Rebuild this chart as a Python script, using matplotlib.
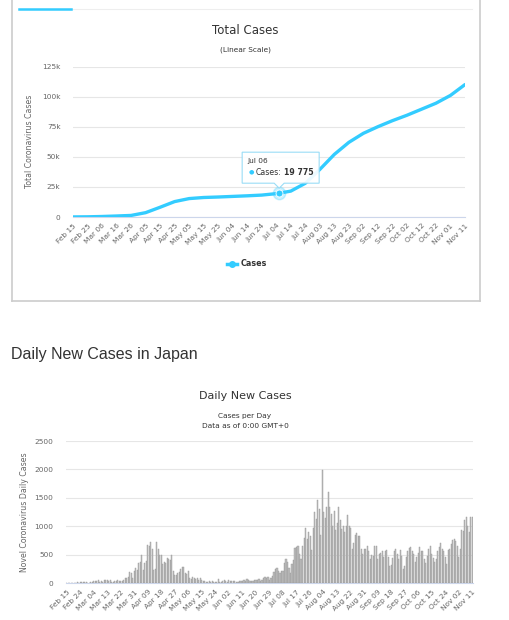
import numpy as np
import pandas as pd
import matplotlib
matplotlib.use("Agg")
import matplotlib.pyplot as plt
import matplotlib.dates as mdates
import matplotlib.transforms as mtrans
from matplotlib.lines import Line2D

# total cases, read every 10 days (Feb 15 .. Nov 11) plus the tooltip point
total_dates = pd.date_range("2020-02-15", "2020-11-11", freq="10D")
total_vals = [60, 160, 420, 830, 1300, 3600, 8100, 12800, 15300, 16200,
              16600, 17100, 17600, 18200, 19400, 21500, 28000, 39500, 52000, 62000,
              69500, 75000, 80000, 84500, 89500, 94500, 101000, 110000]
tip_date = pd.Timestamp("2020-07-06")
tip_val = 19775

# daily new cases, Feb 15 .. Nov 11
feb = [0, 12, 6, 7, 14, 9, 12, 24, 12, 15, 16, 20, 25, 21, 12]
mar = [14, 15, 19, 33, 32, 42, 55, 30, 35, 26, 52, 54, 56, 41, 64, 28, 15, 44, 39, 56,
       39, 35, 43, 65, 93, 97, 112, 200, 173, 88, 222]
apr = [266, 235, 351, 368, 500, 240, 351, 400, 680, 650, 730, 610, 240, 260, 730, 600,
       500, 490, 340, 370, 350, 440, 420, 410, 500, 210, 140, 150, 180, 200]
may = [250, 290, 290, 180, 160, 210, 90, 80, 110, 100, 70, 90, 55, 90, 55, 45, 40, 30,
       25, 35, 20, 35, 25, 30, 20, 70, 20, 15, 35, 50, 40]
jun = [30, 50, 40, 45, 35, 40, 30, 25, 40, 45, 40, 50, 45, 70, 60, 35, 40, 40, 65, 55,
       55, 70, 35, 50, 85, 110, 90, 110, 60, 90]
jul = [120, 190, 250, 270, 210, 180, 220, 210, 350, 430, 380, 270, 180, 340, 410, 620,
       640, 660, 510, 420, 650, 790, 980, 780, 900, 830, 590, 980, 1260, 1130, 1460]
aug = [1300, 850, 1998, 1260, 1150, 1340, 1610, 1340, 1220, 1000, 1270, 940, 1060, 1340,
       1120, 950, 1000, 900, 1000, 1200, 1000, 980, 600, 700, 850, 880, 830, 830, 600,
       520, 600]
sep = [600, 650, 560, 430, 500, 480, 650, 660, 420, 510, 540, 560, 470, 570, 580, 460,
       300, 330, 450, 560, 600, 520, 420, 580, 480, 260, 310, 470, 560, 620]
oct_ = [640, 560, 520, 380, 460, 540, 630, 560, 570, 430, 350, 480, 600, 650, 520, 450,
        380, 420, 560, 640, 710, 600, 560, 470, 340, 590, 600, 690, 760, 770, 740]
nov = [660, 470, 610, 930, 920, 1120, 1170, 1000, 900, 1170, 1170]
daily = feb + mar + apr + may + jun + jul + aug + sep + oct_ + nov
daily_dates = pd.date_range("2020-02-15", periods=len(daily), freq="D")

blue = "#33ccff"
grid_c = "#e6e6e6"
tick_c = "#666666"

W, H = 509, 620
fig = plt.figure(figsize=(W / 100, H / 100), dpi=100)
fig.patch.set_facecolor("white")

def fx(px):
    return px / W

def fy(py):
    return 1 - py / H

# frame of the upper card
fig.add_artist(Line2D([fx(11.5), fx(11.5)], [fy(0), fy(301)], color="#cccccc", lw=1.2))
fig.add_artist(Line2D([fx(479.5), fx(479.5)], [fy(0), fy(301)], color="#cccccc", lw=1.2))
fig.add_artist(Line2D([fx(11.5), fx(479.5)], [fy(301), fy(301)], color="#cccccc", lw=1.2))
fig.add_artist(Line2D([fx(19), fx(472)], [fy(8.5), fy(8.5)], color="#eeeeee", lw=0.8))
fig.add_artist(Line2D([fx(19), fx(71)], [fy(8.5), fy(8.5)], color=blue, lw=1.8))


def style_axes(ax):
    for s in ["top", "right", "left"]:
        ax.spines[s].set_visible(False)
    ax.spines["bottom"].set_color("#ccd6eb")
    ax.spines["bottom"].set_linewidth(0.8)
    ax.yaxis.grid(True, color=grid_c, lw=0.8)
    ax.set_axisbelow(True)
    ax.tick_params(axis="y", length=0, colors=tick_c, labelsize=5.3, pad=9)
    ax.tick_params(axis="x", length=0, colors=tick_c, labelsize=5.3, pad=4)


# ---- total cases
ax1 = fig.add_axes([fx(73), fy(217), fx(465) - fx(73), (217 - 66.5) / H])
style_axes(ax1)
s = pd.Series(total_vals, index=total_dates)
s[tip_date] = tip_val
s = s.sort_index()
ax1.plot(s.index, s.values, color=blue, lw=2.4, solid_capstyle="round", zorder=3)
ax1.set_xlim(total_dates[0], total_dates[-1])
ax1.set_ylim(0, 125000)
ax1.set_yticks([0, 25000, 50000, 75000, 100000, 125000])
ax1.set_yticklabels(["0", "25k", "50k", "75k", "100k", "125k"])
ax1.set_xticks(total_dates)
ax1.set_xticklabels([d.strftime("%b %d") for d in total_dates], rotation=45,
                    ha="right", rotation_mode="anchor")
ax1.set_ylabel("Total Coronavirus Cases", fontsize=5.6, color=tick_c, labelpad=6)
fig.text(fx(245), fy(31), "Total Cases", fontsize=8.5, color="#333333",
         ha="center", va="center")
fig.text(fx(246), fy(50), "(Linear Scale)", fontsize=5.3, color="#333333",
         ha="center", va="center")

# highlighted point and tooltip
ax1.plot([tip_date], [tip_val], "o", ms=9, color=blue, alpha=0.25, zorder=4)
ax1.plot([tip_date], [tip_val], "o", ms=5, color=blue, mec="white", mew=0.6, zorder=5)
px, py = ax1.transData.transform((mdates.date2num(tip_date), tip_val))
ident = mtrans.IdentityTransform()
box_l, box_b, box_w, box_h = px - 37, py + 10, 77, 31
fig.add_artist(plt.Polygon([[box_l, box_b], [px - 5, box_b], [px, box_b - 5],
                            [px + 5, box_b], [box_l + box_w, box_b],
                            [box_l + box_w, box_b + box_h], [box_l, box_b + box_h]],
                           closed=True, transform=ident, facecolor="white",
                           edgecolor="#8fd9f5", lw=0.8, alpha=0.9, zorder=6))
fig.text(px - 32, py + 32, "Jul 06", transform=ident, fontsize=5.3,
         color="#333333", va="center", ha="left", zorder=7)
fig.text(px - 31, py + 21, "\u25CF", transform=ident, fontsize=4.5,
         color=blue, va="center", ha="left", zorder=7)
fig.text(px - 24, py + 21, "Cases:", transform=ident, fontsize=5.6,
         color="#333333", va="center", ha="left", zorder=7)
fig.text(px + 5, py + 21, "19 775", transform=ident, fontsize=5.6,
         color="#333333", fontweight="bold", va="center", ha="left", zorder=7)

# legend
fig.add_artist(Line2D([fx(227), fx(237)], [fy(264), fy(264)], color=blue, lw=2.5))
fig.add_artist(Line2D([fx(232)], [fy(264)], color=blue, marker="o", ms=4))
fig.text(fx(241), fy(264), "Cases", fontsize=5.8, fontweight="bold", color="#333333",
         va="center", ha="left")

# ---- daily new cases
fig.text(fx(11), fy(354), "Daily New Cases in Japan", fontsize=11.5,
         family="Liberation Sans", color="#333333", va="center", ha="left")

ax2 = fig.add_axes([fx(66), fy(583.3), fx(473) - fx(66), (583.3 - 441) / H])
style_axes(ax2)
ax2.bar(daily_dates, daily, width=0.72, color="#bdbdbd", edgecolor="#999999",
        linewidth=0.3, zorder=3)
ax2.set_xlim(daily_dates[0] - pd.Timedelta(hours=12), daily_dates[-1] + pd.Timedelta(hours=12))
ax2.set_ylim(0, 2500)
ax2.set_yticks([0, 500, 1000, 1500, 2000, 2500])
ax2.set_yticklabels(["0", "500", "1000", "1500", "2000", "2500"])
tdates = daily_dates[::9]
ax2.set_xticks(tdates)
ax2.set_xticklabels([d.strftime("%b %d") for d in tdates], rotation=45,
                    ha="right", rotation_mode="anchor")
ax2.set_ylabel("Novel Coronavirus Daily Cases", fontsize=5.6, color=tick_c, labelpad=4)
fig.text(fx(245), fy(396), "Daily New Cases", fontsize=8, color="#333333",
         ha="center", va="center")
fig.text(fx(245), fy(416), "Cases per Day", fontsize=5.3, color="#333333",
         ha="center", va="center")
fig.text(fx(245), fy(426), "Data as of 0:00 GMT+0", fontsize=5.3, color="#333333",
         ha="center", va="center")

fig.savefig("out.png", dpi=100)
